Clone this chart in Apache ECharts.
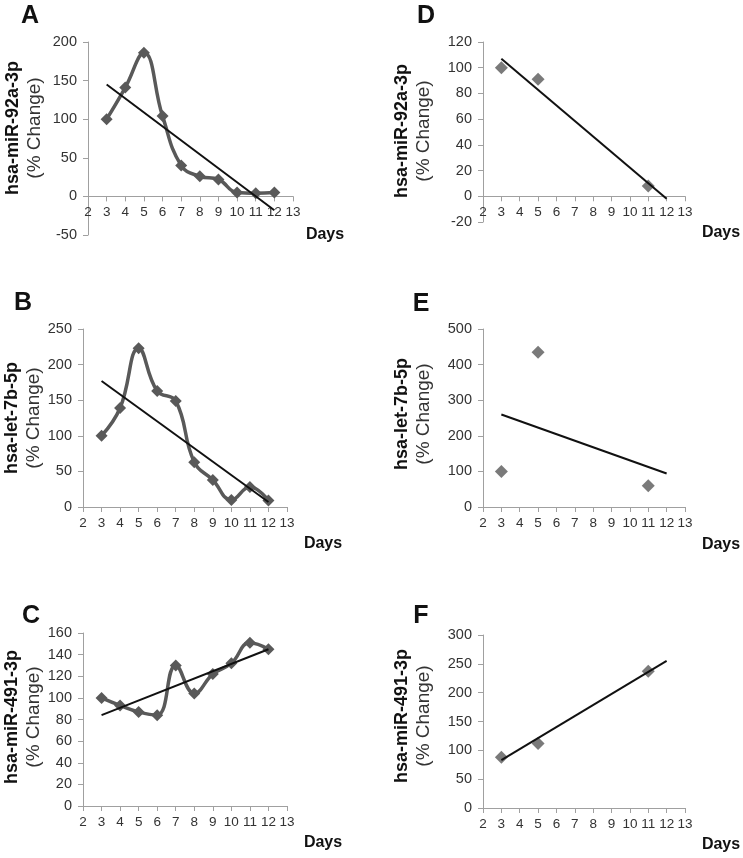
<!DOCTYPE html>
<html>
<head>
<meta charset="utf-8">
<script src="https://cdn.jsdelivr.net/npm/echarts@6/dist/echarts.min.js"></script>
<style>html,body{margin:0;padding:0;background:#fff;}#c{width:743px;height:858px;}</style>
</head>
<body>
<div id="c"></div>
<script>
// ---- data ----
const daysAll = [3, 4, 5, 6, 7, 8, 9, 10, 11, 12];
const daysSparse = [3, 5, 11];
const trendDays = [3, 12];

const aMiR92a = [100, 141, 186, 104, 40, 26, 22, 5, 4, 5];
const bLet7b = [100, 139, 223, 163, 149, 63, 38, 10, 28, 9];
const cMiR491 = [100, 93, 87, 84, 130, 104, 122, 132, 151, 145];
const dMiR92a = [100, 91, 8];
const eLet7b = [100, 435, 60];
const fMiR491 = [88, 112, 237];

const trendA = [145, -18];
const trendB = [177, 7];
const trendC = [84, 145];
const trendD = [107, -2];
const trendE = [260, 94];
const trendF = [83, 255];

const xTicks = { min: 2, max: 13, interval: 1 };
const yScales = {
  A: { min: -50, max: 200, interval: 50 },
  B: { min: 0, max: 250, interval: 50 },
  C: { min: 0, max: 160, interval: 20 },
  D: { min: -20, max: 120, interval: 20 },
  E: { min: 0, max: 500, interval: 100 },
  F: { min: 0, max: 300, interval: 50 }
};
const panelLetters = ['A', 'B', 'C', 'D', 'E', 'F'];
const yNames = ['hsa-miR-92a-3p', 'hsa-let-7b-5p', 'hsa-miR-491-3p', 'hsa-miR-92a-3p', 'hsa-let-7b-5p', 'hsa-miR-491-3p'];
const yUnit = '(% Change)';
const xName = 'Days';

// ---- layout ----
const FONT = '"Liberation Sans", Arial, Helvetica, sans-serif';
const grids = [
  { left: 88, top: 42, width: 205, height: 193 },   // A
  { left: 83, top: 329, width: 204, height: 178 },  // B
  { left: 83, top: 633, width: 204, height: 173 },  // C
  { left: 483, top: 42, width: 202, height: 180 },  // D
  { left: 483, top: 329, width: 202, height: 178 }, // E
  { left: 483, top: 635, width: 202, height: 173 }  // F
];
const scaleKeys = ['A', 'B', 'C', 'D', 'E', 'F'];
const letterPos = [[30, 16], [23, 303], [31, 616], [426, 16], [421, 304], [421, 616]];
const namePos = [ // [boldX, normalX, centerY]
  [13, 35, 128], [12, 34, 418], [12, 34, 717],
  [402, 424, 131], [402, 424, 414], [402, 424, 716]
];
const daysPos = [[325, 235], [323, 544], [323, 843], [721, 233], [721, 545], [721, 845]];

const axisColor = '#a0a0a0';
const lineColor = '#595959';

const xAxes = grids.map((g, i) => {
  const s = yScales[scaleKeys[i]];
  const zeroOffset = s.min < 0 ? -((0 - s.min) / (s.max - s.min)) * g.height : 0;
  return {
    type: 'value', gridIndex: i, min: xTicks.min, max: xTicks.max, interval: xTicks.interval,
    position: 'bottom', offset: zeroOffset,
    axisLine: { show: true, onZero: false, lineStyle: { color: axisColor, width: 1 } },
    axisTick: { show: true, length: 5, lineStyle: { color: axisColor } },
    axisLabel: { show: true, color: '#333', fontSize: 13.5, fontFamily: FONT, margin: 9 },
    splitLine: { show: false }
  };
});
const yAxes = grids.map((g, i) => {
  const s = yScales[scaleKeys[i]];
  return {
    type: 'value', gridIndex: i, min: s.min, max: s.max, interval: s.interval,
    axisLine: { show: true, onZero: false, lineStyle: { color: axisColor, width: 1 } },
    axisTick: { show: true, length: 5, lineStyle: { color: axisColor } },
    axisLabel: { show: true, color: '#333', fontSize: 14.5, fontFamily: FONT, margin: 11 },
    splitLine: { show: false }
  };
});

function pairs(xs, ys) { return xs.map((x, k) => [x, ys[k]]); }

const series = [];
function smoothSeries(i, ys) {
  series.push({
    type: 'line', xAxisIndex: i, yAxisIndex: i, data: pairs(daysAll, ys),
    smooth: 0.45, symbol: 'diamond', symbolSize: 12, showSymbol: true,
    lineStyle: { color: lineColor, width: 3.5 }, itemStyle: { color: lineColor },
    z: 2, silent: true, animation: false
  });
}
function scatterSeries(i, ys) {
  series.push({
    type: 'scatter', xAxisIndex: i, yAxisIndex: i, data: pairs(daysSparse, ys),
    symbol: 'diamond', symbolSize: 13, itemStyle: { color: lineColor },
    z: 2, silent: true, animation: false
  });
}
function trendSeries(i, ys) {
  series.push({
    type: 'line', xAxisIndex: i, yAxisIndex: i, data: pairs(trendDays, ys),
    symbol: 'none', lineStyle: { color: '#111', width: 2 },
    z: 3, silent: true, animation: false
  });
}
smoothSeries(0, aMiR92a); trendSeries(0, trendA);
smoothSeries(1, bLet7b); trendSeries(1, trendB);
smoothSeries(2, cMiR491); trendSeries(2, trendC);
scatterSeries(3, dMiR92a); trendSeries(3, trendD);
scatterSeries(4, eLet7b); trendSeries(4, trendE);
scatterSeries(5, fMiR491); trendSeries(5, trendF);

const graphics = [];
for (let i = 0; i < 6; i++) {
  graphics.push({
    type: 'text', x: letterPos[i][0], y: letterPos[i][1],
    style: { text: panelLetters[i], font: 'bold 25px ' + FONT, fill: '#111',
      textAlign: 'center', textVerticalAlign: 'middle', align: 'center', verticalAlign: 'middle' }
  });
  graphics.push({
    type: 'text', x: namePos[i][0], y: namePos[i][2], rotation: Math.PI / 2,
    style: { text: yNames[i], font: 'bold 18px ' + FONT, fill: '#111',
      textAlign: 'center', textVerticalAlign: 'middle', align: 'center', verticalAlign: 'middle' }
  });
  graphics.push({
    type: 'text', x: namePos[i][1], y: namePos[i][2], rotation: Math.PI / 2,
    style: { text: yUnit, font: '19px ' + FONT, fill: '#333',
      textAlign: 'center', textVerticalAlign: 'middle', align: 'center', verticalAlign: 'middle' }
  });
  graphics.push({
    type: 'text', x: daysPos[i][0], y: daysPos[i][1],
    style: { text: xName, font: 'bold 16px ' + FONT, fill: '#111',
      textAlign: 'center', textVerticalAlign: 'middle', align: 'center', verticalAlign: 'middle' }
  });
}

const chart = echarts.init(document.getElementById('c'), null, { renderer: 'canvas' });
chart.setOption({
  backgroundColor: '#fff',
  animation: false,
  grid: grids.map(g => Object.assign({ containLabel: false, outerBoundsMode: 'none' }, g)),
  xAxis: xAxes,
  yAxis: yAxes,
  series: series,
  graphic: { elements: graphics }
});
</script>
</body>
</html>
